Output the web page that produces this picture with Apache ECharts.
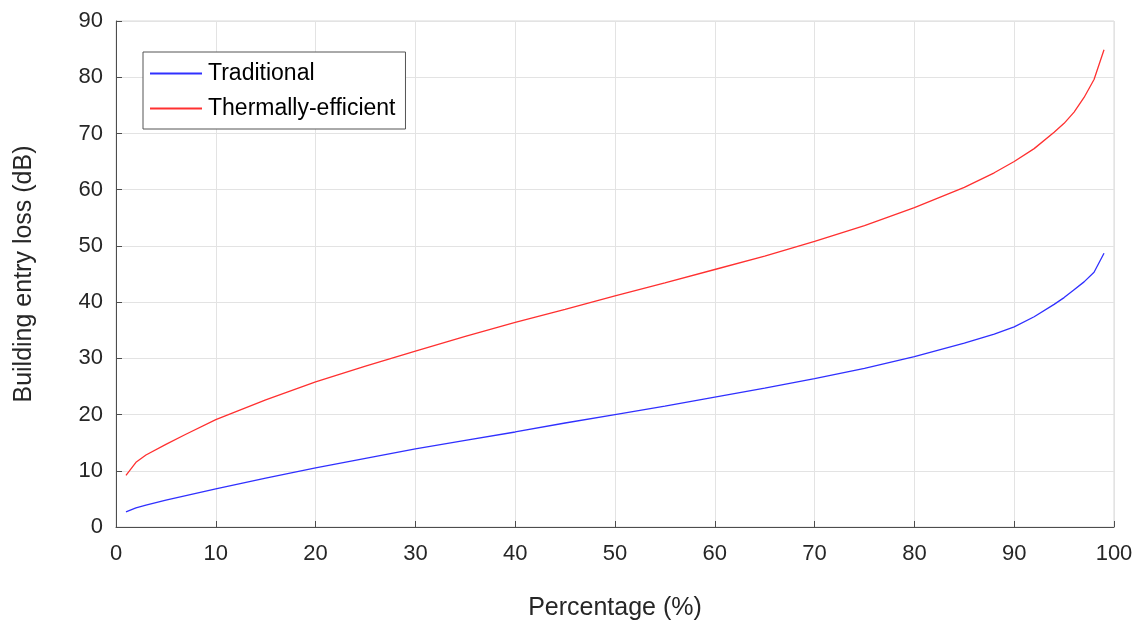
<!DOCTYPE html>
<html><head><meta charset="utf-8">
<script src="https://cdn.jsdelivr.net/npm/echarts@6/dist/echarts.min.js"></script>
<style>html,body{margin:0;padding:0;background:#fff}#c{width:1137px;height:626px}</style>
</head><body><div id="c"></div>
<script>
const percentages = [1,2,3,5,7,10,15,20,25,30,35,40,45,50,55,60,65,70,75,80,85,88,90,92,94,95,96,97,98,99];
const traditional = [2.7,3.4,3.9,4.8,5.6,6.8,8.7,10.5,12.2,13.9,15.4,16.9,18.5,20.0,21.5,23.1,24.7,26.4,28.2,30.3,32.7,34.3,35.6,37.4,39.6,40.8,42.2,43.6,45.3,48.7];
const thermal = [9.2,11.5,12.8,14.7,16.5,19.1,22.6,25.8,28.6,31.3,33.9,36.4,38.7,41.1,43.4,45.8,48.2,50.8,53.6,56.8,60.4,63.0,65.0,67.3,70.2,71.8,73.8,76.4,79.6,84.9];
const seriesNames = ['Traditional','Thermally-efficient'];
const xTitle = 'Percentage (%)';
const yTitle = 'Building entry loss (dB)';

const chart = echarts.init(document.getElementById('c'));
const font = 'Liberation Sans, Arial, sans-serif';
chart.setOption({
  animation:false,
  grid:{left:116,right:23,top:21,bottom:99,show:true,borderColor:'#d9d9d9',borderWidth:1},
  legend:{
    orient:'vertical',left:143,top:52,
    data:seriesNames.map(n=>({name:n,icon:'rect'})),
    itemWidth:52,itemHeight:2,itemGap:12,
    borderColor:'#555',borderWidth:1,padding:[10,10,9,7],backgroundColor:'#fff',
    textStyle:{fontFamily:font,fontSize:23,color:'#000',padding:[0,0,0,1]}
  },
  xAxis:{
    type:'value',min:0,max:100,interval:10,
    name:xTitle,nameLocation:'middle',nameGap:69,
    nameTextStyle:{fontFamily:font,fontSize:25,color:'#262626'},
    axisLine:{show:true,onZero:false,lineStyle:{color:'#4d4d4d'}},
    axisTick:{show:true,inside:true,length:6,lineStyle:{color:'#4d4d4d'}},
    axisLabel:{fontFamily:font,fontSize:22,color:'#262626',margin:16},
    splitLine:{show:true,lineStyle:{color:'#e3e3e3'}}
  },
  yAxis:{
    type:'value',min:0,max:90,interval:10,
    name:yTitle,nameLocation:'middle',nameGap:79,
    nameTextStyle:{fontFamily:font,fontSize:25,color:'#262626'},
    axisLine:{show:true,onZero:false,lineStyle:{color:'#4d4d4d'}},
    axisTick:{show:true,inside:true,length:6,lineStyle:{color:'#4d4d4d'}},
    axisLabel:{fontFamily:font,fontSize:22,color:'#262626',margin:13},
    splitLine:{show:true,lineStyle:{color:'#e3e3e3'}}
  },
  series:[
    {name:seriesNames[0],type:'line',symbol:'none',smooth:false,
     color:'#3030ff',lineStyle:{width:1.3,color:'#3030ff'},
     data:percentages.map((p,i)=>[p,traditional[i]])},
    {name:seriesNames[1],type:'line',symbol:'none',smooth:false,
     color:'#ff3030',lineStyle:{width:1.3,color:'#ff3030'},
     data:percentages.map((p,i)=>[p,thermal[i]])}
  ]
});
</script></body></html>
